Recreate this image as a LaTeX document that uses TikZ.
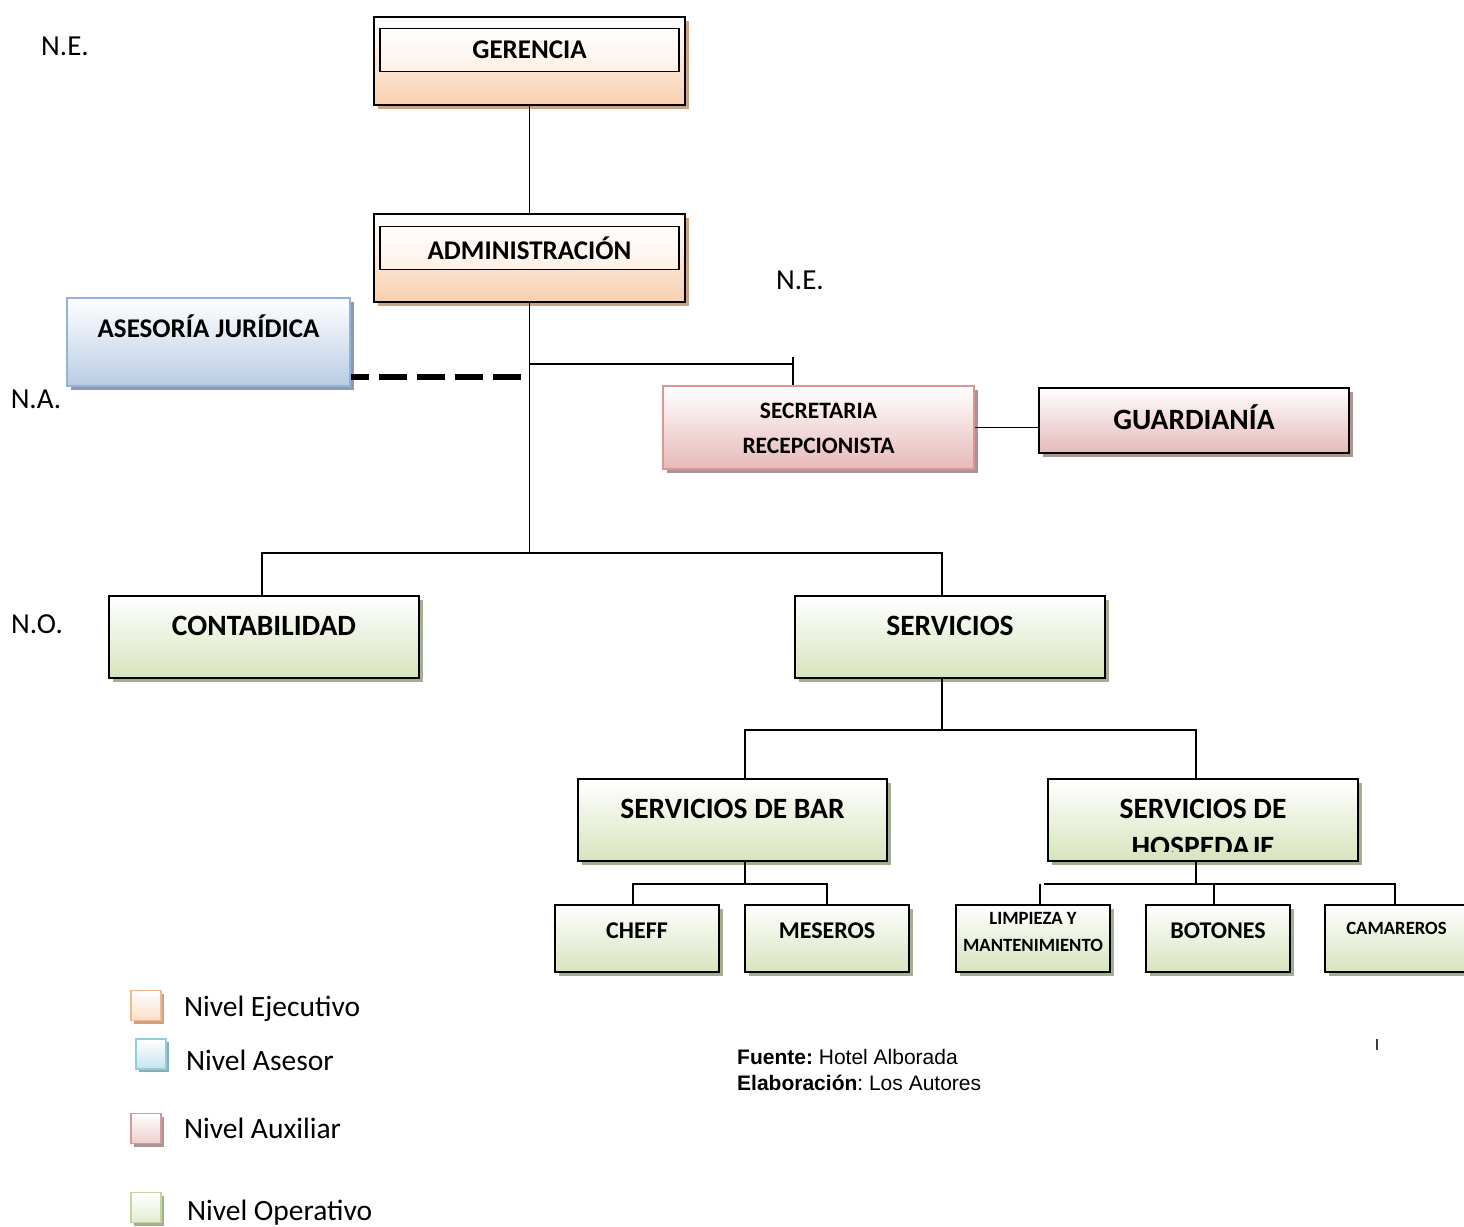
\documentclass[tikz,border=0pt]{standalone}
\usepackage{fontspec}
\setmainfont{Carlito}
\newfontfamily\arialfont{Liberation Sans}
\usetikzlibrary{
    positioning,
    shadows,
    calc
}
\definecolor{execfill}{HTML}{F8CFAE}
\definecolor{execline}{HTML}{F5B88C}
\definecolor{execshadow}{HTML}{C9A386}
\definecolor{advfill}{HTML}{B8CCE4}
\definecolor{advline}{HTML}{95B3D7}
\definecolor{advshadow}{HTML}{8E9BAC}
\definecolor{auxfill}{HTML}{E6B9B8}
\definecolor{auxline}{HTML}{D99694}
\definecolor{auxshadow}{HTML}{AA9494}
\definecolor{opfill}{HTML}{D7E4BD}
\definecolor{opline}{HTML}{C3D69B}
\definecolor{opshadow}{HTML}{A4AE92}
\definecolor{keyfill}{HTML}{B7DDE8}
\definecolor{keyline}{HTML}{92CDDC}
\definecolor{keyshadow}{HTML}{8FAAB2}
\tikzset{
    unit box/.style={
        rectangle, inner sep=0pt, top color=white,
        drop shadow={shadow xshift=4pt, shadow yshift=-4pt,
                     fill=#1shadow, opacity=1}
    },
    exec box/.style={
        unit box=exec, draw=black, line width=1.8pt,
        bottom color=execfill, minimum width=311pt, minimum height=88pt
    },
    exec title/.style={
        rectangle, draw=black, line width=1.4pt, inner sep=0pt,
        top color=white, bottom color=execfill!30,
        minimum width=299pt, minimum height=43pt,
        font=\fontsize{27}{32}\selectfont\bfseries
    },
    adv box/.style={
        unit box=adv, draw=advline, line width=1.6pt, bottom color=advfill
    },
    aux box/.style={
        unit box=aux, draw=#1, line width=1.6pt, bottom color=auxfill
    },
    aux box/.default={auxline},
    op box/.style={
        unit box=op, draw=black, line width=1.8pt, bottom color=opfill
    },
    box text/.style 2 args={
        font=\fontsize{#1}{#2}\selectfont\bfseries
    },
    tag/.style={
        font=\fontsize{29}{34}\selectfont, inner sep=0pt
    },
    key/.style={
        rectangle, inner sep=0pt, minimum size=30pt, line width=1.6pt,
        top color=white,
        drop shadow={shadow xshift=3pt, shadow yshift=-3pt,
                     fill=#1shadow, opacity=1}
    },
    key text/.style={
        font=\fontsize{29.5}{35}\selectfont, inner sep=0pt
    },
    link/.style={draw=black, line width=1.7pt},
    dashed link/.style={draw=black, line width=6pt, dash pattern=on 28pt off 10pt},
}

\begin{document}
\begin{tikzpicture}[x=1pt, y=-1pt]
    \useasboundingbox (0,0) rectangle (1464,1226);

    % level tags
    \node[tag] (ne-top) at (65,46) {N.E.};
    \node[tag] (ne-mid) at (800,280) {N.E.};
    \node[tag] (na) at (36,399) {N.A.};
    \node[tag] (no) at (37,624) {N.O.};

    % executive level
    \node[exec box] (ger) at (529.5,61) {};
    \node[exec title] (ger-t) at (529.5,50) {GERENCIA};
    \node[exec box] (adm) at (529.5,258) {};
    \node[exec title] (adm-t) at (529.5,248) {ADMINISTRACIÓN};

    % advisory level
    \node[adv box, minimum width=283pt, minimum height=88pt,
          label={[box text={27}{32}, yshift=16pt]center:ASESORÍA JURÍDICA}] (ase) at (208.5,342) {};

    % auxiliary level
    \node[aux box, minimum width=311pt, minimum height=83pt,
          label={[box text={23.5}{35}, align=center, yshift=-1pt]center:{SECRETARIA\\RECEPCIONISTA}}] (sec) at (818.5,427.5) {};
    \node[aux box=black, line width=1.8pt, minimum width=310pt, minimum height=65pt,
          label={[box text={29.5}{35}, yshift=3pt]center:GUARDIANÍA}] (gua) at (1194,420.5) {};

    % operative level
    \node[op box, minimum width=310pt, minimum height=82pt,
          label={[box text={29.5}{35}, yshift=11pt]center:CONTABILIDAD}] (con) at (264,637) {};
    \node[op box, minimum width=310pt, minimum height=82pt,
          label={[box text={29.5}{35}, yshift=11pt]center:SERVICIOS}] (ser) at (950,637) {};
    \node[op box, minimum width=309pt, minimum height=82pt,
          label={[box text={29.5}{35}, yshift=11pt]center:SERVICIOS DE BAR}] (bar) at (732.5,820) {};
    \node[op box, minimum width=310pt, minimum height=82pt] (hos) at (1203,820) {};
    \begin{scope}
        \clip (hos.north west) rectangle ([yshift=10pt]hos.south east);
        \node[box text={29.5}{38}, align=center, anchor=north, inner sep=0pt] (hos-t)
            at ([yshift=-21pt]hos.north) {SERVICIOS DE\\HOSPEDAJE};
    \end{scope}

    \node[op box, minimum width=164pt, minimum height=67pt,
          label={[box text={24}{28}, yshift=7.5pt]center:CHEFF}] (che) at (637,938.5) {};
    \node[op box, minimum width=164pt, minimum height=67pt,
          label={[box text={24}{28}, yshift=7.5pt]center:MESEROS}] (mes) at (827,938.5) {};
    \node[op box, minimum width=154pt, minimum height=67pt,
          label={[box text={18.7}{27}, align=center, yshift=7pt]center:{LIMPIEZA Y\\MANTENIMIENTO}}] (lim) at (1033,938.5) {};
    \node[op box, minimum width=144pt, minimum height=67pt,
          label={[box text={24}{28}, yshift=7.5pt]center:BOTONES}] (bot) at (1218,938.5) {};
    \node[op box, minimum width=155pt, minimum height=67pt,
          label={[box text={18.7}{22}, xshift=-6pt, yshift=10.5pt]center:CAMAREROS}] (cam) at (1402.5,938.5) {};

    % connectors
    \draw[link] (ger.south) -- (adm.north);
    \coordinate (trunk) at (adm.south |- 0,553);
    \draw[link] (adm.south) -- (trunk);

    \coordinate (secfork) at (adm.south |- 0,364);
    \coordinate (secin) at ($(sec.north west)!0.418!(sec.north east)$);
    \draw[link] (secfork) -- (secfork -| secin);
    \draw[link] ($(secfork -| secin)+(0,-7)$) -- (secin);

    \coordinate (asein) at (521,377);
    \draw[dashed link] (asein) -- (ase.east |- asein);

    \draw[link] (sec.east) -- (sec.east -| gua.west);

    \draw[link] ([xshift=-2pt]con.north) |- (trunk);
    \draw[link] (trunk) -| ([xshift=-8pt]ser.north);

    \coordinate (serout) at ([xshift=-8pt]ser.south);
    \coordinate (serfork) at (serout |- 0,730);
    \coordinate (barin) at ([xshift=12.5pt]bar.north);
    \coordinate (hosin) at ([xshift=-7pt]hos.north);
    \draw[link] (serout) -- (serfork);
    \draw[link] (barin) |- (serfork) -| (hosin);

    \coordinate (barout) at ([xshift=12.5pt]bar.south);
    \coordinate (barfork) at (barout |- 0,884);
    \draw[link] (barout) -- (barfork);
    \draw[link] ([xshift=-4pt]che.north) |- (barfork) -| (mes.north);

    \coordinate (hosout) at ([xshift=-7pt]hos.south);
    \coordinate (hosfork) at (hosout |- 0,884);
    \coordinate (limin) at ([xshift=7pt]lim.north);
    \coordinate (botin) at ([xshift=-4pt]bot.north);
    \coordinate (camin) at ([xshift=-7.5pt]cam.north);
    \draw[link] (hosout) -- (hosfork);
    \draw[link] (limin) -- (limin |- hosfork);
    \draw[link] ($(limin |- hosfork)+(4,0)$) -| (camin);
    \draw[link] (botin) -- (botin |- hosfork);

    % legend
    \node[key=exec, draw=execline, bottom color=execfill!70] (k-exec) at (146,1005.5) {};
    \node[key text, right=22pt of k-exec, yshift=-3pt] (t-exec) {Nivel Ejecutivo};
    \node[key=key, draw=keyline, bottom color=keyfill!80] (k-adv) at (151,1054) {};
    \node[key text, right=19pt of k-adv, yshift=-6pt] (t-adv) {Nivel Asesor};
    \node[key=aux, draw=auxline, bottom color=auxfill!70] (k-aux) at (146,1128.5) {};
    \node[key text, right=22pt of k-aux] (t-aux) {Nivel Auxiliar};
    \node[key=op, draw=opline, bottom color=opfill!70] (k-op) at (146,1207.5) {};
    \node[key text, right=25pt of k-op, yshift=-5pt] (t-op) {Nivel Operativo};

    % source
    \node[anchor=north west, inner sep=0pt, align=left,
          font=\arialfont\fontsize{21}{26}\selectfont] (src) at (737,1049)
        {\textbf{Fuente:}~Hotel Alborada\\\textbf{Elaboración}:~Los Autores};
    \node[inner sep=0pt, font=\arialfont\fontsize{16}{19}\selectfont] (mark) at (1377,1045) {I};

\end{tikzpicture}
\end{document}
